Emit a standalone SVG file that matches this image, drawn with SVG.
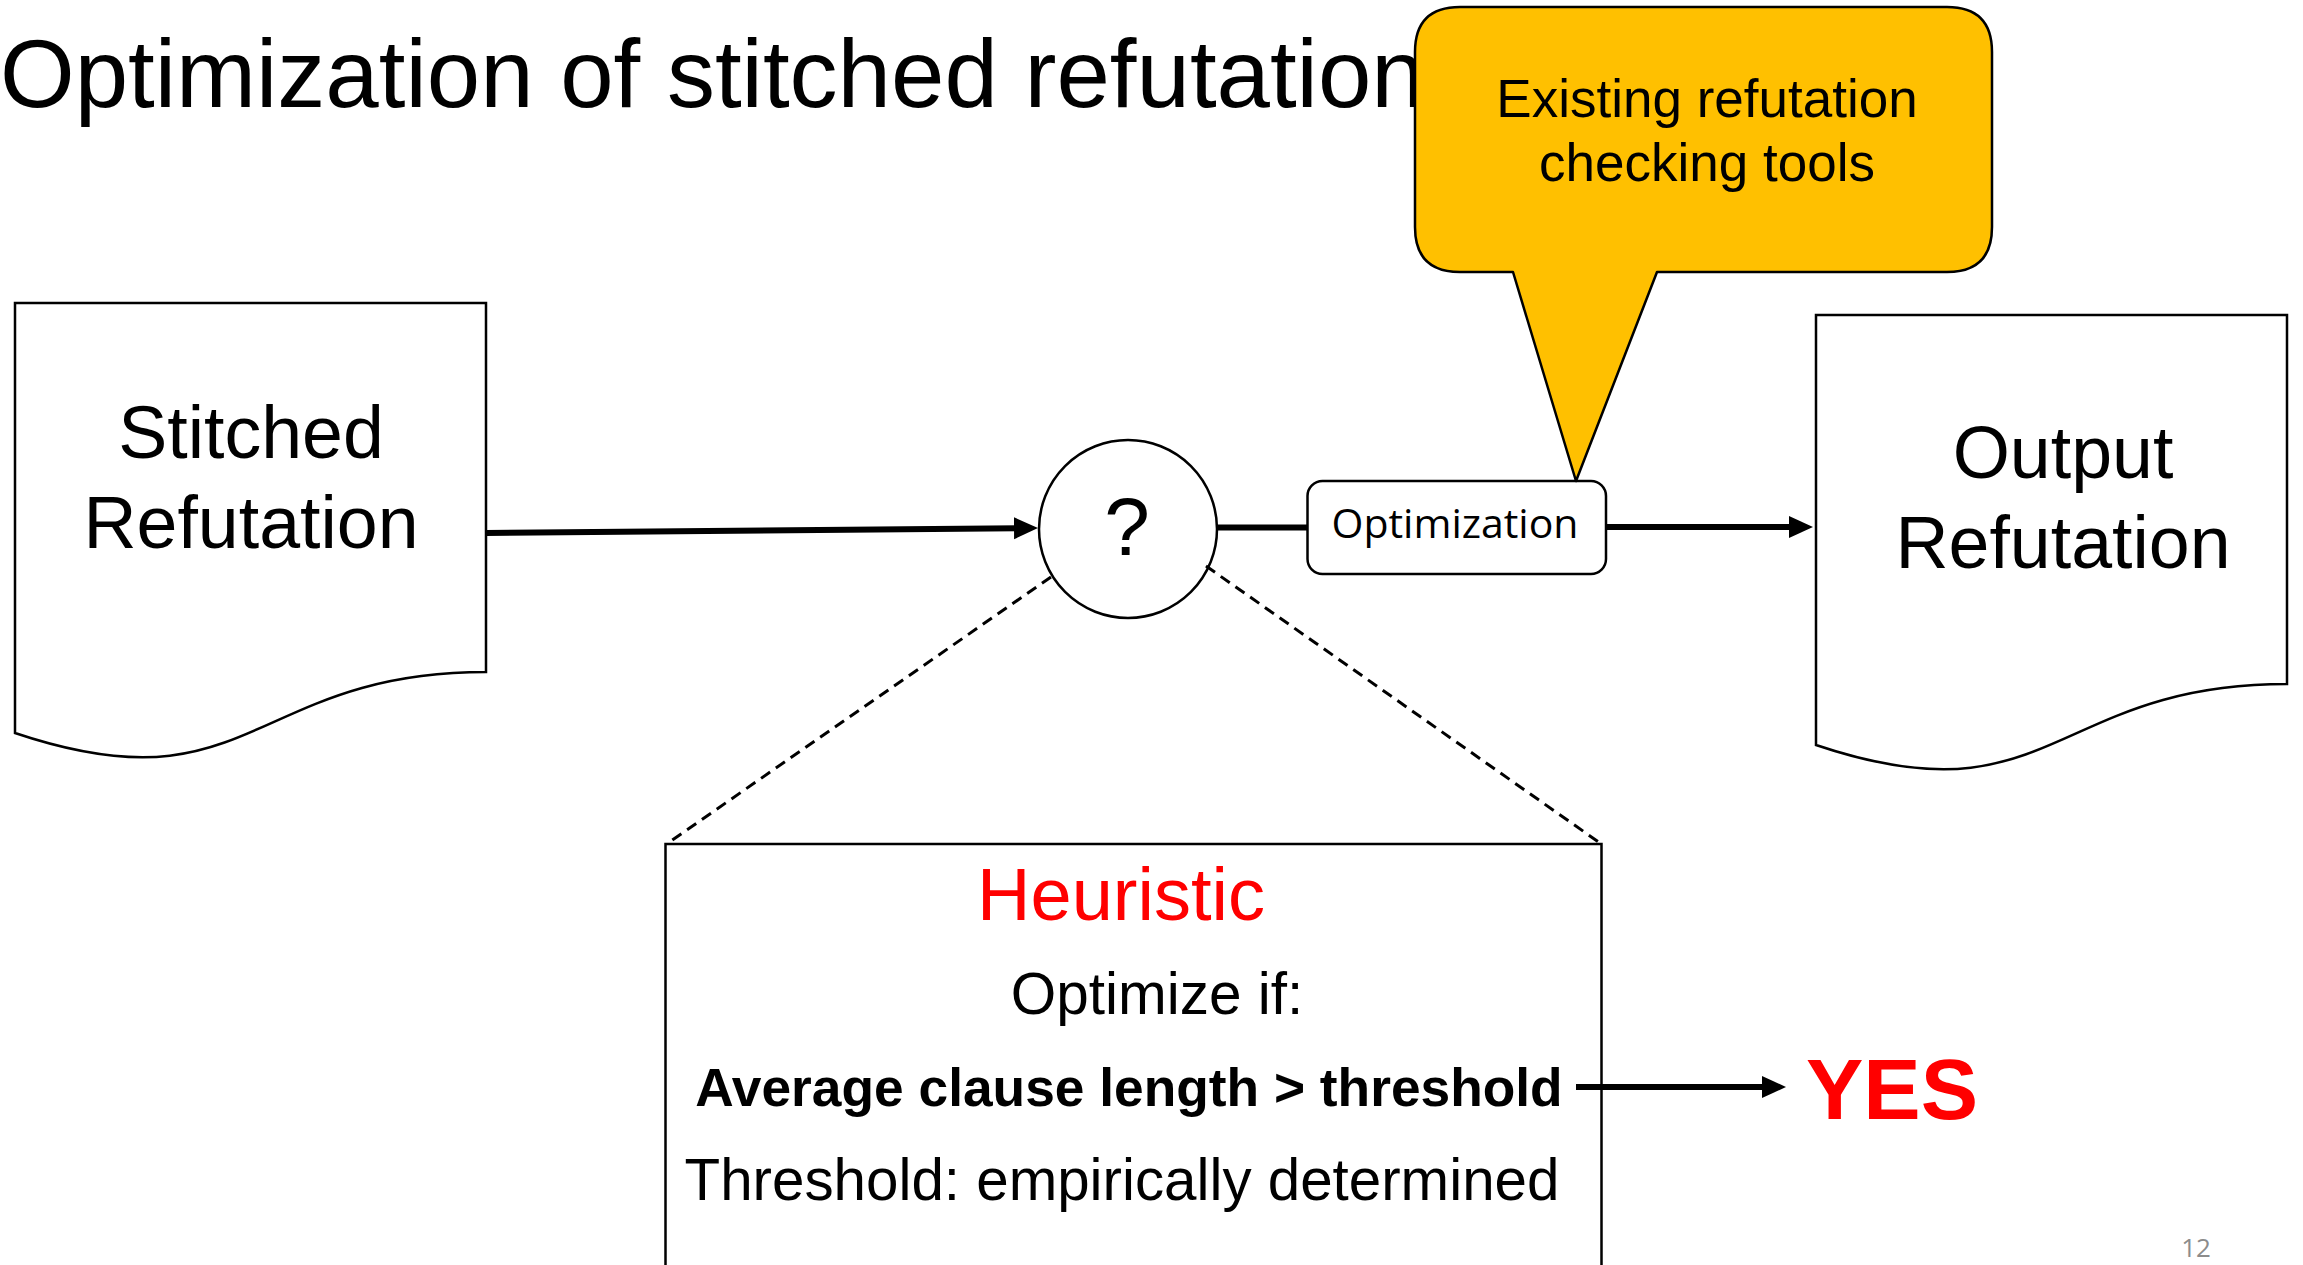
<svg xmlns="http://www.w3.org/2000/svg" width="2303" height="1265" viewBox="0 0 2303 1265">
  <style>
    .sans { font-family: "Liberation Sans", Arial, sans-serif; }
    .shape { fill: #ffffff; stroke: #000000; stroke-width: 2.5; }
    .flow { stroke: #000000; stroke-width: 6; fill: none; }
    .dash { stroke: #000000; stroke-width: 3; stroke-dasharray: 11 7; fill: none; }
  </style>
  <defs>
    <marker id="ah" markerUnits="userSpaceOnUse" markerWidth="26" markerHeight="24" refX="4" refY="11" orient="auto">
      <path d="M0,0 L24,11 L0,22 Z" fill="#000000"/>
    </marker>
  </defs>

  <rect width="2303" height="1265" fill="#ffffff"/>

  <!-- slide title -->
  <text id="title" class="sans" x="0" y="107" font-size="96" fill="#000000">Optimization of stitched refutation</text>

  <!-- input document -->
  <g id="stitched-refutation">
    <path class="shape" d="M15,303 H486 V672 C250.5,672 250.5,812.4 15,733 Z"/>
    <text class="sans" x="251" y="458" font-size="73.5" text-anchor="middle">Stitched</text>
    <text class="sans" x="251" y="548" font-size="73.5" text-anchor="middle">Refutation</text>
  </g>

  <!-- decision point -->
  <g id="decision">
    <circle class="shape" cx="1128" cy="529" r="89"/>
    <text class="sans" x="1127" y="555" font-size="82" text-anchor="middle">?</text>
  </g>

  <!-- optimization step -->
  <g id="optimization">
    <rect class="shape" x="1307.5" y="481" width="298.5" height="93" rx="15" ry="15"/>
    <text x="1455" y="538" font-family="'Open Sans', 'Noto Sans', sans-serif" font-size="41" text-anchor="middle">Optimization</text>
  </g>

  <!-- output document -->
  <g id="output-refutation">
    <path class="shape" d="M1816,315 H2287 V684 C2051.5,684 2051.5,824.4 1816,745 Z"/>
    <text class="sans" x="2063" y="478" font-size="73.5" text-anchor="middle">Output</text>
    <text class="sans" x="2063" y="568" font-size="73.5" text-anchor="middle">Refutation</text>
  </g>

  <!-- heuristic detail box -->
  <g id="heuristic">
    <path class="shape" d="M665.5,1270 V844 H1601.5 V1270"/>
    <text class="sans" x="1121" y="920" font-size="74" fill="#ff0000" text-anchor="middle">Heuristic</text>
    <text class="sans" x="1157" y="1014" font-size="58.5" text-anchor="middle">Optimize if:</text>
    <text class="sans" x="1129" y="1106" font-size="53.3" font-weight="bold" text-anchor="middle">Average clause length &gt; threshold</text>
    <text class="sans" x="1122" y="1200" font-size="58.3" text-anchor="middle">Threshold: empirically determined</text>
  </g>

  <!-- outcome -->
  <g id="yes">
    <text class="sans" x="1806" y="1119" font-size="86" font-weight="bold" fill="#ff0000">YES</text>
  </g>

  <!-- connectors -->
  <g id="connectors">
    <line class="flow" x1="486" y1="533" x2="1018" y2="528.2" marker-end="url(#ah)"/>
    <line class="flow" x1="1217" y1="527.5" x2="1308" y2="527.5"/>
    <line class="flow" x1="1606" y1="527" x2="1793" y2="527" marker-end="url(#ah)"/>
    <line class="flow" x1="1576" y1="1087" x2="1766" y2="1087" marker-end="url(#ah)"/>
    <line class="dash" x1="1051" y1="577" x2="668" y2="843"/>
    <line class="dash" x1="1206" y1="566" x2="1600" y2="843"/>
  </g>

  <!-- callout -->
  <g id="callout">
    <path d="M1460,7 H1947 Q1992,7 1992,52 V227 Q1992,272 1947,272 H1657 L1576,481 L1513,272 H1460 Q1415,272 1415,227 V52 Q1415,7 1460,7 Z" fill="#ffc000" stroke="#000000" stroke-width="2.5" stroke-linejoin="round"/>
    <text class="sans" x="1707" y="117" font-size="53" text-anchor="middle">Existing refutation</text>
    <text class="sans" x="1707" y="181" font-size="53" text-anchor="middle">checking tools</text>
  </g>

  <!-- slide number -->
  <text id="page-number" x="2196" y="1257" font-family="'Open Sans', 'Noto Sans', sans-serif" font-size="26" fill="#8c8c8c" text-anchor="middle">12</text>
</svg>
